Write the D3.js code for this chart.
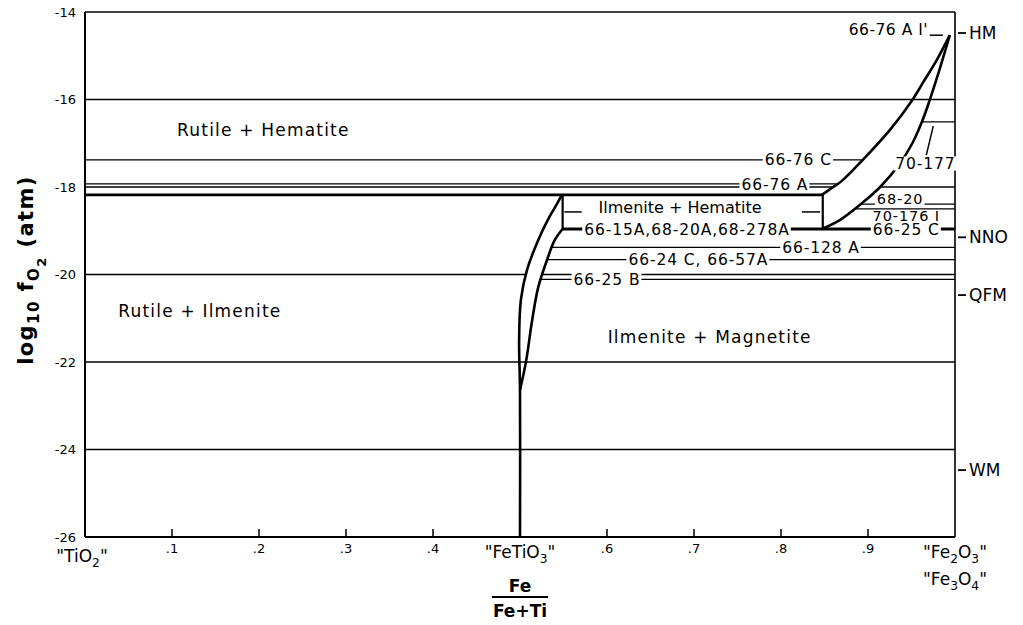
<!DOCTYPE html>
<html>
<head>
<meta charset="utf-8">
<script src="https://cdn.jsdelivr.net/npm/d3@7"></script>
<style>
  body { margin: 0; background: #fff; }
  svg { display: block; font-family: "DejaVu Sans", "Liberation Sans", Arial, sans-serif; }
</style>
</head>
<body>
<svg id="chart" width="1023" height="625"></svg>
<script>
(function () {
  "use strict";

  // x = Fe/(Fe+Ti), y = log10 fO2 (atm)
  const xTicks = [0.1, 0.2, 0.3, 0.4, 0.6, 0.7, 0.8, 0.9];
  const xTickLabels = [".1", ".2", ".3", ".4", ".6", ".7", ".8", ".9"];
  const yTicks = [-14, -16, -18, -20, -22, -24, -26];

  // reference lines that run straight across the field
  const gridLevels = [-16, -22, -24];

  // experimental runs: [log fO2, from x, to x]
  const sampleLines = [
    [-17.38, 0, 0.91],
    [-17.93, 0, 0.89],
    [-18.0, 0, 1],
    [-18.39, 0.85, 1],
    [-18.5, 0.85, 1],
    [-16.51, 0.945, 1],
    [-19.38, 0.525, 1],
    [-19.66, 0.52, 1],
    [-20.0, 0, 1],
    [-20.11, 0.515, 1],
  ];

  // run labels: [text, x, log fO2, size]
  const sampleLabels = [
    ["66-76 C", 0.820, -17.38, 15.5],
    ["66-76 A", 0.793, -17.93, 15.5],
    ["66-15A,68-20A,68-278A", 0.692, -18.96, 15.5],
    ["66-25 C", 0.944, -18.96, 15.5],
    ["66-128 A", 0.846, -19.38, 15.5],
    ["66-24 C, 66-57A", 0.705, -19.66, 15.5],
    ["66-25 B", 0.600, -20.11, 15.5],
    ["68-20", 0.937, -18.27, 14.5],
    ["70-176 I", 0.944, -18.66, 14.5],
    ["70-177", 0.966, -17.45, 15.5],
  ];

  // phase boundaries: [log fO2, from x, to x]
  const boundaries = [
    [-18.18, 0, 0.848],
    [-18.96, 0.549, 1],
  ];
  const boxEdges = [0.549, 0.848];
  const boxTop = -18.18;
  const boxBottom = -18.96;
  const boxDashes = [[0.551, 0.571, -18.57], [0.824, 0.845, -18.57]];

  // ilmenite solid solution loop
  const ilmOuter = [
    [0.548, -18.18], [0.543, -18.37], [0.532, -18.75], [0.521, -19.21],
    [0.508, -19.90], [0.501, -20.58], [0.499, -21.50], [0.500, -22.64], [0.500, -26],
  ];
  const ilmInner = [
    [0.549, -18.96], [0.540, -19.21], [0.531, -19.67], [0.521, -20.29],
    [0.514, -21.04], [0.507, -21.98], [0.500, -22.64],
  ];

  // hematite solid solution loop
  const hemOuter = [
    [0.847, -18.18], [0.860, -18.0], [0.870, -17.86], [0.894, -17.38],
    [0.925, -16.70], [0.951, -16.01], [0.963, -15.62], [0.979, -15.10], [0.994, -14.53],
  ];
  const hemInner = [
    [0.847, -18.96], [0.868, -18.75], [0.893, -18.37], [0.914, -18.0],
    [0.937, -17.45], [0.951, -17.0], [0.962, -16.51], [0.971, -16.01],
    [0.982, -15.33], [0.994, -14.53],
  ];

  const leader70177 = [[0.967, -17.27], [0.975, -16.61]];
  const leaderHM = [[0.971, -14.53], [0.986, -14.53]];

  // oxygen buffers on the right margin
  const buffers = [["HM", -14.48], ["NNO", -19.15], ["QFM", -20.47], ["WM", -24.47]];

  // phase fields: [name, x, log fO2]
  const regions = [
    ["Rutile + Hematite", 0.205, -16.70],
    ["Rutile + Ilmenite", 0.132, -20.83],
    ["Ilmenite + Magnetite", 0.718, -21.43],
  ];
  const boxRegion = ["Ilmenite + Hematite", 0.684, -18.46];

  const svg = d3.select("#chart");
  const x = d3.scaleLinear().domain([0, 1]).range([85, 955]);
  const y = d3.scaleLinear().domain([-26, -14]).range([537, 12]);

  svg.append("rect").attr("width", 1023).attr("height", 625).attr("fill", "#fff");

  const g = svg.append("g");

  function hline(sel, yv, x0, x1, w) {
    sel.append("line")
      .attr("x1", x(x0)).attr("x2", x(x1))
      .attr("y1", y(yv)).attr("y2", y(yv))
      .attr("stroke", "#000").attr("stroke-width", w);
  }

  // sample run lines (under the loops)
  sampleLines.forEach(([yv, x0, x1]) => hline(g, yv, x0, x1, 1.3));

  const curve = d3.line().x((d) => x(d[0])).y((d) => y(d[1])).curve(d3.curveCatmullRom.alpha(0.5));

  function loopFill(outer, inner, outerEnd) {
    const a = curve(outer.slice(0, outerEnd));
    const b = curve(inner.slice().reverse()).replace(/^M/, "L");
    return a + b + "Z";
  }

  g.append("path").attr("d", loopFill(ilmOuter, ilmInner, ilmOuter.length - 1)).attr("fill", "#fff");
  g.append("path").attr("d", loopFill(hemOuter, hemInner, hemOuter.length)).attr("fill", "#fff");

  [ilmOuter, ilmInner, hemOuter, hemInner].forEach((pts) => {
    g.append("path").attr("d", curve(pts))
      .attr("fill", "none").attr("stroke", "#000").attr("stroke-width", 2.6);
  });

  boundaries.forEach(([yv, x0, x1]) => hline(g, yv, x0, x1, 2.9));
  boxEdges.forEach((xv) => {
    g.append("line")
      .attr("x1", x(xv)).attr("x2", x(xv))
      .attr("y1", y(boxTop)).attr("y2", y(boxBottom))
      .attr("stroke", "#000").attr("stroke-width", 2.2);
  });
  boxDashes.forEach(([x0, x1, yv]) => hline(g, yv, x0, x1, 1.5));

  gridLevels.forEach((yv) => hline(g, yv, 0, 1, 1.3));

  [leader70177, leaderHM].forEach((pts) => {
    g.append("line")
      .attr("x1", x(pts[0][0])).attr("y1", y(pts[0][1]))
      .attr("x2", x(pts[1][0])).attr("y2", y(pts[1][1]))
      .attr("stroke", "#000").attr("stroke-width", 1.5);
  });

  // frame
  hline(g, -14, 0, 1, 1.3);
  hline(g, -26, 0, 1, 2.2);
  g.append("line").attr("x1", x(0)).attr("x2", x(0)).attr("y1", y(-14)).attr("y2", y(-26))
    .attr("stroke", "#000").attr("stroke-width", 2);
  g.append("line").attr("x1", x(1)).attr("x2", x(1)).attr("y1", y(-14)).attr("y2", y(-26))
    .attr("stroke", "#000").attr("stroke-width", 1.6);

  // x ticks
  g.selectAll("line.xtick").data(xTicks).enter().append("line")
    .attr("class", "xtick")
    .attr("x1", (d) => x(d)).attr("x2", (d) => x(d))
    .attr("y1", y(-26)).attr("y2", y(-26) - 8)
    .attr("stroke", "#000").attr("stroke-width", 1.5);

  g.selectAll("text.xlab").data(xTicks).enter().append("text")
    .attr("class", "xlab")
    .attr("x", (d) => x(d)).attr("y", y(-26) + 16)
    .attr("text-anchor", "middle").attr("font-size", 13)
    .text((d, i) => xTickLabels[i]);

  g.selectAll("text.ylab").data(yTicks).enter().append("text")
    .attr("class", "ylab")
    .attr("x", x(0) - 9).attr("y", (d) => y(d) + 4.5)
    .attr("text-anchor", "end").attr("font-size", 13)
    .text((d) => d);

  // text with subscripts: parts = [[str, level], ...]
  function rich(sel, parts, size) {
    let shift = 0;
    parts.forEach(([s, lvl]) => {
      const target = lvl * size * 0.3;
      sel.append("tspan")
        .attr("dy", target - shift)
        .attr("font-size", lvl ? size * (lvl > 1 ? 0.62 : 0.72) : size)
        .text(s);
      shift = target;
    });
  }

  function richAt(px, py, parts, size) {
    const t = g.append("text").attr("x", px).attr("y", py)
      .attr("text-anchor", "middle").attr("font-size", size);
    rich(t, parts, size);
    return t;
  }

  richAt(x(0) - 3, y(-26) + 25, [["\"TiO", 0], ["2", 1], ["\"", 0]], 17);
  richAt(x(0.5), y(-26) + 21, [["\"FeTiO", 0], ["3", 1], ["\"", 0]], 17);
  richAt(x(1), y(-26) + 21, [["\"Fe", 0], ["2", 1], ["O", 0], ["3", 1], ["\"", 0]], 17);
  richAt(x(1), y(-26) + 48, [["\"Fe", 0], ["3", 1], ["O", 0], ["4", 1], ["\"", 0]], 17);

  // Fe / (Fe+Ti)
  g.append("text").attr("x", x(0.5)).attr("y", 592).attr("text-anchor", "middle")
    .attr("font-size", 17).attr("font-weight", "bold").text("Fe");
  g.append("line").attr("x1", x(0.5) - 28).attr("x2", x(0.5) + 28)
    .attr("y1", 597).attr("y2", 597).attr("stroke", "#000").attr("stroke-width", 1.8);
  g.append("text").attr("x", x(0.5)).attr("y", 617).attr("text-anchor", "middle")
    .attr("font-size", 17).attr("font-weight", "bold").text("Fe+Ti");

  // y axis title
  const yt = g.append("text")
    .attr("transform", "translate(33,270) rotate(-90)")
    .attr("text-anchor", "middle").attr("font-size", 21).attr("font-weight", "bold")
    .attr("letter-spacing", 1.4);
  rich(yt, [["log", 0], ["10", 1], [" f", 0], ["O", 1], ["2", 2], [" (atm)", 0]], 21);

  // phase field names
  regions.forEach(([name, xv, yv]) => {
    g.append("text").attr("x", x(xv)).attr("y", y(yv) + 6)
      .attr("text-anchor", "middle").attr("font-size", 17).attr("letter-spacing", 1.2)
      .text(name);
  });
  g.append("text").attr("x", x(boxRegion[1])).attr("y", y(boxRegion[2]) + 6)
    .attr("text-anchor", "middle").attr("font-size", 16)
    .text(boxRegion[0]);

  // run labels on a white patch that breaks the line
  sampleLabels.forEach(([name, xv, yv, size]) => {
    const lg = g.append("g");
    const t = lg.append("text").attr("x", x(xv)).attr("y", y(yv) + size * 0.36)
      .attr("text-anchor", "middle").attr("font-size", size).attr("letter-spacing", 0.9)
      .text(name);
    const b = t.node().getBBox();
    lg.insert("rect", "text")
      .attr("x", b.x - 2).attr("y", b.y + 2)
      .attr("width", b.width + 3).attr("height", b.height - 4)
      .attr("fill", "#fff");
  });

  g.append("text").attr("x", x(0.969)).attr("y", y(-14.39) + 5.6)
    .attr("text-anchor", "end").attr("font-size", 15.5).attr("letter-spacing", 0.5)
    .text("66-76 A I'");

  // buffers
  buffers.forEach(([name, yv]) => {
    g.append("line").attr("x1", x(1) + 3).attr("x2", x(1) + 11)
      .attr("y1", y(yv)).attr("y2", y(yv)).attr("stroke", "#000").attr("stroke-width", 1.8);
    g.append("text").attr("x", x(1) + 14).attr("y", y(yv) + 6)
      .attr("font-size", 17).text(name);
  });
})();
</script>
</body>
</html>
